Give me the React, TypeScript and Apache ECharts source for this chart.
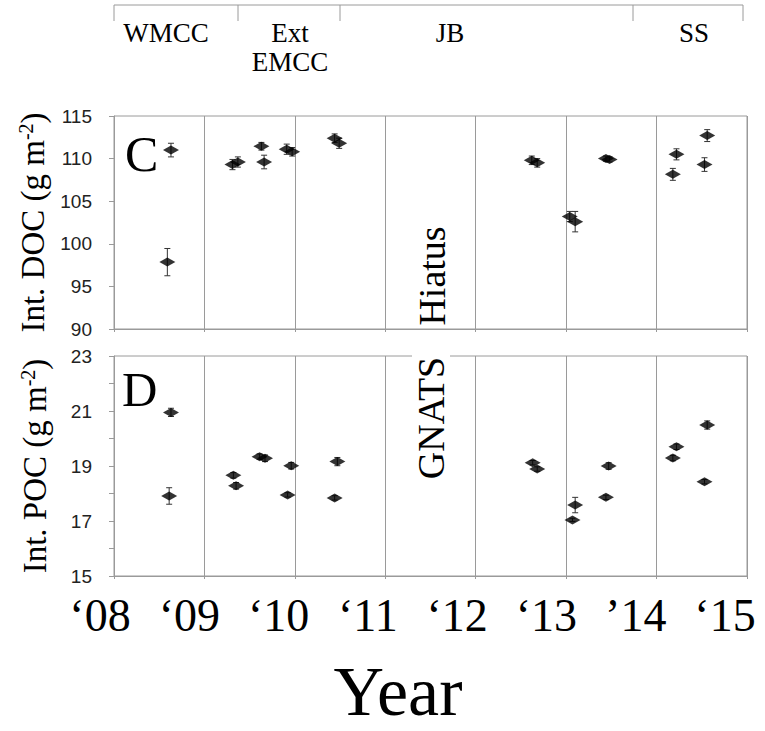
import React, { useEffect, useRef } from "react";
import * as echarts from "echarts";

// ---- data ----
const yearTickLabels = ["‘08", "‘09", "‘10", "‘11", "‘12", "‘13", "’14", "‘15"];
const periodNames = ["WMCC", "Ext\nEMCC", "JB", "SS"];

const docYears = [2008.63, 2008.59, 2009.31, 2009.37, 2009.63, 2009.66, 2009.91, 2009.97, 2010.44, 2010.49, 2012.62, 2012.68, 2013.04, 2013.1, 2013.44, 2013.48, 2014.22, 2014.18, 2014.56, 2014.53];
const docValues = [111.0, 97.85, 109.3, 109.6, 111.45, 109.6, 111.1, 110.8, 112.4, 111.8, 109.8, 109.5, 103.2, 102.6, 110.0, 109.9, 110.5, 108.15, 112.7, 109.3];
const docErrors = [0.8, 1.6, 0.6, 0.6, 0.45, 0.8, 0.6, 0.5, 0.5, 0.6, 0.5, 0.5, 0.6, 1.2, 0.3, 0.3, 0.65, 0.7, 0.7, 0.8];

const pocYears = [2008.63, 2008.61, 2009.32, 2009.35, 2009.61, 2009.67, 2009.96, 2009.92, 2010.47, 2010.44, 2012.63, 2012.68, 2013.07, 2013.1, 2013.47, 2013.44, 2014.22, 2014.18, 2014.56, 2014.53];
const pocValues = [20.95, 17.91, 18.66, 18.28, 19.34, 19.28, 19.01, 17.95, 19.16, 17.84, 19.12, 18.89, 17.04, 17.58, 19.0, 17.86, 19.7, 19.29, 20.49, 18.43];
const pocErrors = [0.15, 0.3, 0.1, 0.12, 0.1, 0.12, 0.12, 0.08, 0.15, 0.08, 0.08, 0.08, 0.06, 0.28, 0.12, 0.08, 0.1, 0.1, 0.15, 0.08];

const SERIF = "Liberation Serif";
const SANS = "Liberation Sans";
const GRID_GRAY = "#9a9a9a";

function errorSeries(idx: number, xs: number[], ys: number[], es: number[]) {
  return {
    type: "custom",
    xAxisIndex: idx,
    yAxisIndex: idx,
    z: 3,
    silent: true,
    data: xs.map((x, i) => [x, ys[i] - es[i], ys[i] + es[i]]),
    renderItem: (params: any, api: any) => {
      const x = api.value(0);
      const lo = api.coord([x, api.value(1)]);
      const hi = api.coord([x, api.value(2)]);
      const cap = 3;
      const st = { stroke: "#333", lineWidth: 1 };
      return {
        type: "group",
        children: [
          { type: "line", shape: { x1: lo[0], y1: lo[1], x2: hi[0], y2: hi[1] }, style: st },
          { type: "line", shape: { x1: lo[0] - cap, y1: lo[1], x2: lo[0] + cap, y2: lo[1] }, style: st },
          { type: "line", shape: { x1: hi[0] - cap, y1: hi[1], x2: hi[0] + cap, y2: hi[1] }, style: st },
        ],
      };
    },
  };
}

function scatterSeries(idx: number, xs: number[], ys: number[]) {
  return {
    type: "scatter",
    xAxisIndex: idx,
    yAxisIndex: idx,
    z: 4,
    symbol: "diamond",
    symbolSize: [16, 9],
    itemStyle: { color: "#000" },
    data: xs.map((x, i) => [x, ys[i]]),
  };
}

const panelX = (idx: number) => ({
  type: "value",
  gridIndex: idx,
  min: 2008,
  max: 2015,
  interval: 1,
  axisLine: { show: true, lineStyle: { color: GRID_GRAY } },
  axisTick: { show: true, length: 3, lineStyle: { color: GRID_GRAY } },
  axisLabel: { show: false },
  splitLine: { show: true, lineStyle: { color: GRID_GRAY, width: 1 } },
});

const nameRich = {
  sup: { fontFamily: SERIF, fontSize: 20, verticalAlign: "top", color: "#000", padding: [0, 0, 14, 0] },
};

const serifText = (text: string, x: number, y: number, size: number, extra: any = {}) => ({
  type: "text",
  x,
  y,
  z: 10,
  ...extra.el,
  style: {
    text,
    fontFamily: SERIF,
    fontSize: size,
    fill: "#000",
    align: "center",
    verticalAlign: "middle",
    ...extra.style,
  },
});

export default function App() {
  const ref = useRef<HTMLDivElement>(null);
  useEffect(() => {
    const chart = echarts.init(ref.current!, undefined, { renderer: "svg" });
    const option: any = {
      animation: false,
      backgroundColor: "#fff",
      grid: [
        { left: 114, top: 116, width: 633, height: 213, show: true, borderColor: GRID_GRAY, borderWidth: 1 },
        { left: 114, top: 356, width: 633, height: 220, show: true, borderColor: GRID_GRAY, borderWidth: 1 },
        { left: 100, top: 583, width: 625, height: 1, show: false },
      ],
      xAxis: [
        panelX(0),
        panelX(1),
        {
          type: "value",
          gridIndex: 2,
          min: 2008,
          max: 2015,
          interval: 1,
          axisLine: { show: false },
          axisTick: { show: false },
          splitLine: { show: false },
          axisLabel: {
            show: true,
            margin: 8,
            fontFamily: SERIF,
            fontSize: 46,
            color: "#000",
            formatter: (v: number) => yearTickLabels[Math.round(v - 2008)] ?? "",
          },
        },
      ],
      yAxis: [
        {
          type: "value",
          gridIndex: 0,
          min: 90,
          max: 115,
          interval: 5,
          axisLine: { show: true, lineStyle: { color: GRID_GRAY } },
          axisTick: { show: true, length: 5, lineStyle: { color: GRID_GRAY } },
          splitLine: { show: false },
          axisLabel: { margin: 22, fontFamily: SANS, fontSize: 19, color: "#222" },
          name: "Int. DOC (g m{sup|-2})",
          nameLocation: "middle",
          nameRotate: 90,
          nameGap: 62,
          nameTextStyle: { fontFamily: SERIF, fontSize: 33, color: "#000", rich: nameRich },
        },
        {
          type: "value",
          gridIndex: 1,
          min: 15,
          max: 23,
          interval: 1,
          axisLine: { show: true, lineStyle: { color: GRID_GRAY } },
          axisTick: { show: true, length: 5, lineStyle: { color: GRID_GRAY } },
          splitLine: { show: false },
          axisLabel: {
            margin: 22,
            fontFamily: SANS,
            fontSize: 19,
            color: "#222",
            formatter: (v: number) => (Math.round(v) % 2 === 1 ? String(v) : ""),
          },
          name: "Int. POC (g m{sup|-2})",
          nameLocation: "middle",
          nameRotate: 90,
          nameGap: 62,
          nameTextStyle: { fontFamily: SERIF, fontSize: 33, color: "#000", rich: nameRich },
        },
        { type: "value", gridIndex: 2, show: false, min: 0, max: 1 },
      ],
      series: [
        errorSeries(0, docYears, docValues, docErrors),
        scatterSeries(0, docYears, docValues),
        errorSeries(1, pocYears, pocValues, pocErrors),
        scatterSeries(1, pocYears, pocValues),
      ],
      graphic: [
        // period bracket
        { type: "line", shape: { x1: 114, y1: 5, x2: 743, y2: 5 }, style: { stroke: GRID_GRAY, lineWidth: 1 } },
        ...[114, 238, 340, 633, 743].map((x) => ({
          type: "line",
          shape: { x1: x, y1: 5, x2: x, y2: 21 },
          style: { stroke: GRID_GRAY, lineWidth: 1 },
        })),
        ...[166, 290, 450, 694].map((x, i) =>
          serifText(periodNames[i], x, 18, 27, { style: { verticalAlign: "top", lineHeight: 29 } })
        ),
        serifText("C", 125, 154, 50, { style: { align: "left" } }),
        serifText("D", 122, 389, 49, { style: { align: "left" } }),
        serifText("Hiatus", 432, 276, 38, { el: { rotation: Math.PI / 2 } }),
        serifText("GNATS", 431, 418, 38, {
          el: { rotation: Math.PI / 2 },
          style: { backgroundColor: "#fff", padding: [0, 4, 0, 4] },
        }),
        serifText("Year", 398, 691, 70, { style: { lineHeight: 56 } }),
      ],
    };
    chart.setOption(option);
    return () => chart.dispose();
  }, []);
  return <div ref={ref} style={{ position: "fixed", left: 0, top: 0, width: 765, height: 731 }} />;
}
